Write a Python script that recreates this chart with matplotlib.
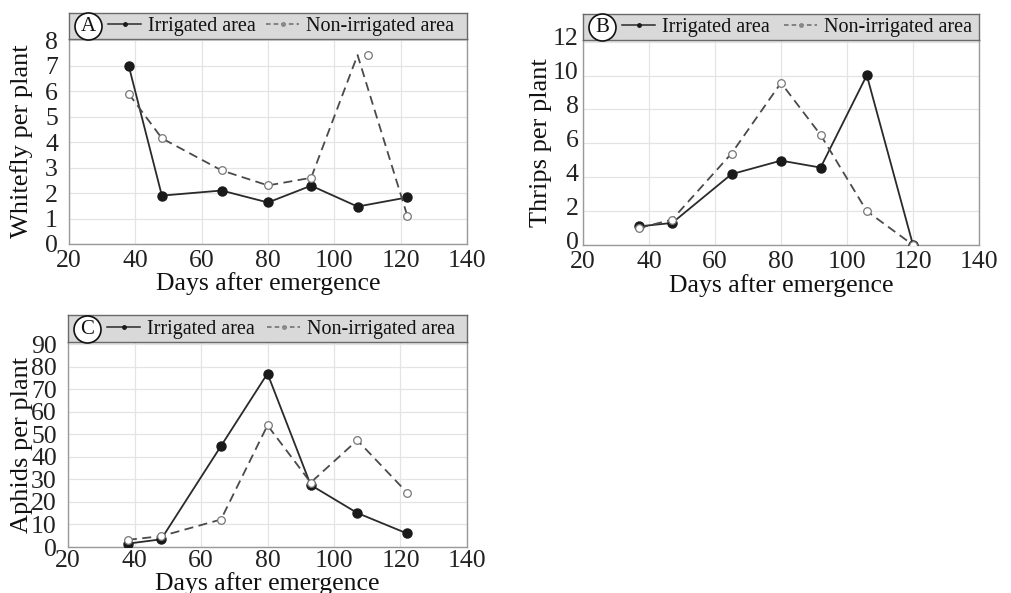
import matplotlib
matplotlib.use("Agg")
import matplotlib.pyplot as plt
from matplotlib.lines import Line2D
from matplotlib.transforms import ScaledTranslation

plt.rcParams['font.family'] = ['Liberation Serif', 'DejaVu Serif']

# ---- data ----
days_A = [38, 48, 66, 80, 93, 107, 122]
whitefly_irr = [7.0, 1.9, 2.1, 1.63, 2.29, 1.47, 1.83]
whitefly_non = [5.9, 4.15, 2.89, 2.3, 2.6, 7.42, 1.11]
days_A_non_markers = [38, 48, 66, 80, 93, 110, 122]

days_B = [37, 47, 65, 80, 92, 106, 120]
thrips_irr = [1.1, 1.3, 4.18, 4.98, 4.57, 10.02, 0.0]
thrips_non = [1.0, 1.5, 5.4, 9.57, 6.5, 2.0, 0.0]

days_C = [38, 48, 66, 80, 93, 107, 122]
aphids_irr = [1.5, 3.4, 44.8, 77.0, 27.5, 15.1, 6.0]
aphids_non = [3.2, 4.8, 12.2, 54.0, 28.6, 47.4, 24.1]

xticks = [20, 40, 60, 80, 100, 120, 140]
yticks_A = [0, 1, 2, 3, 4, 5, 6, 7, 8]
yticks_B = [0, 2, 4, 6, 8, 10, 12]
yticks_C = [0, 10, 20, 30, 40, 50, 60, 70, 80, 90]
labels = ["Irrigated area", "Non-irrigated area"]

W, H = 1011, 593
fig = plt.figure(figsize=(W / 100, H / 100), dpi=100)


def px_axes(l, t, r, b):
    return fig.add_axes([l / W, 1 - b / H, (r - l) / W, (b - t) / H])


def panel(box, strip_top, letter, x, y_irr, y_non, yticks, ylim, ylabel,
          x_non_markers=None, xlabel_y=-0.14, ylabel_x=-0.088, col_gap=0.5,
          xpad=4, ypad=8, ylab_shift=0.0):
    l, t, r, b = box
    ax = px_axes(l, t, r, b)
    ax.plot(x, y_irr, color='#2a2a2a', lw=1.3, marker='o', ms=6.5,
            mfc='#1a1a1a', mec='#1a1a1a', zorder=3)
    if x_non_markers is None:
        ax.plot(x, y_non, color='#4a4a4a', lw=1.3, ls=(0, (5, 3)), marker='o',
                ms=5.5, mfc='white', mec='#777777', mew=0.9, zorder=3)
    else:
        ax.plot(x, y_non, color='#4a4a4a', lw=1.3, ls=(0, (5, 3)), zorder=3)
        ax.plot(x_non_markers, y_non, ls='none', marker='o', ms=5.5,
                mfc='white', mec='#777777', mew=0.9, zorder=3)
    ax.set_xlim(20, 140)
    ax.set_ylim(*ylim)
    ax.set_xticks(xticks)
    ax.set_yticks(yticks)
    ax.tick_params(length=0, labelsize=18.5, colors='#222222')
    ax.tick_params(axis='x', pad=xpad)
    ax.tick_params(axis='y', pad=ypad)
    if ylab_shift:
        off = ScaledTranslation(0, ylab_shift / 100, fig.dpi_scale_trans)
        for lab in ax.get_yticklabels():
            lab.set_transform(lab.get_transform() + off)
    ax.grid(True, color='#e4e4e4', lw=0.9)
    ax.set_axisbelow(True)
    for s in ax.spines.values():
        s.set_color('#9a9a9a')
        s.set_linewidth(1.0)
    ax.set_xlabel("Days after emergence", fontsize=18.5, color='#111111')
    ax.xaxis.set_label_coords(0.5, xlabel_y)
    ax.set_ylabel(ylabel, fontsize=19, color='#111111')
    ax.yaxis.set_label_coords(ylabel_x, 0.5)

    # strip
    sx = px_axes(l, strip_top, r, t)
    sx.set_xlim(0, 1)
    sx.set_ylim(0, 1)
    sx.set_xticks([])
    sx.set_yticks([])
    sx.set_facecolor('#d9d9d9')
    for s in sx.spines.values():
        s.set_color('#6a6a6a')
        s.set_linewidth(1.0)
    sw = r - l
    cx = 19 / sw
    sx.scatter([cx], [0.5], s=(27 * 0.72) ** 2, facecolor='white',
               edgecolor='#111111', linewidth=1.2, zorder=3, clip_on=False)
    sx.text(cx, 0.47, letter, ha='center', va='center', fontsize=15,
            color='#111111', zorder=4)
    h1 = Line2D([], [], color='#2a2a2a', lw=1.1, marker='o', ms=2.5,
                mfc='#1a1a1a', mec='#1a1a1a')
    h2 = Line2D([], [], color='#6a6a6a', lw=1.1, ls=(0, (3, 2)), marker='o',
                ms=2.5, mfc='#888888', mec='#888888')
    sx.legend([h1, h2], labels, ncol=2, loc='center left',
              bbox_to_anchor=(39 / sw, 0.47), frameon=False, fontsize=14.5,
              handlelength=1.65, handletextpad=0.35, columnspacing=col_gap,
              borderpad=0, borderaxespad=0, labelcolor='#111111')
    return ax


panel((69, 39, 467, 244), 13, "A", days_A, whitefly_irr, whitefly_non,
      yticks_A, (0, 8.05), "Whitefly per plant", x_non_markers=days_A_non_markers,
      xlabel_y=-0.135, ylabel_x=-0.09, col_gap=0.5)
panel((583, 40, 979, 245), 14, "B", days_B, thrips_irr, thrips_non,
      yticks_B, (0, 12.1), "Thrips per plant", xlabel_y=-0.14,
      ylabel_x=-0.079, col_gap=0.7, ypad=3, ylab_shift=5)
panel((68, 342, 467, 547), 315, "C", days_C, aphids_irr, aphids_non,
      yticks_C, (0, 91), "Aphids per plant", xlabel_y=-0.122,
      ylabel_x=-0.088, col_gap=0.6, xpad=2)

fig.savefig("out.png", dpi=100)
